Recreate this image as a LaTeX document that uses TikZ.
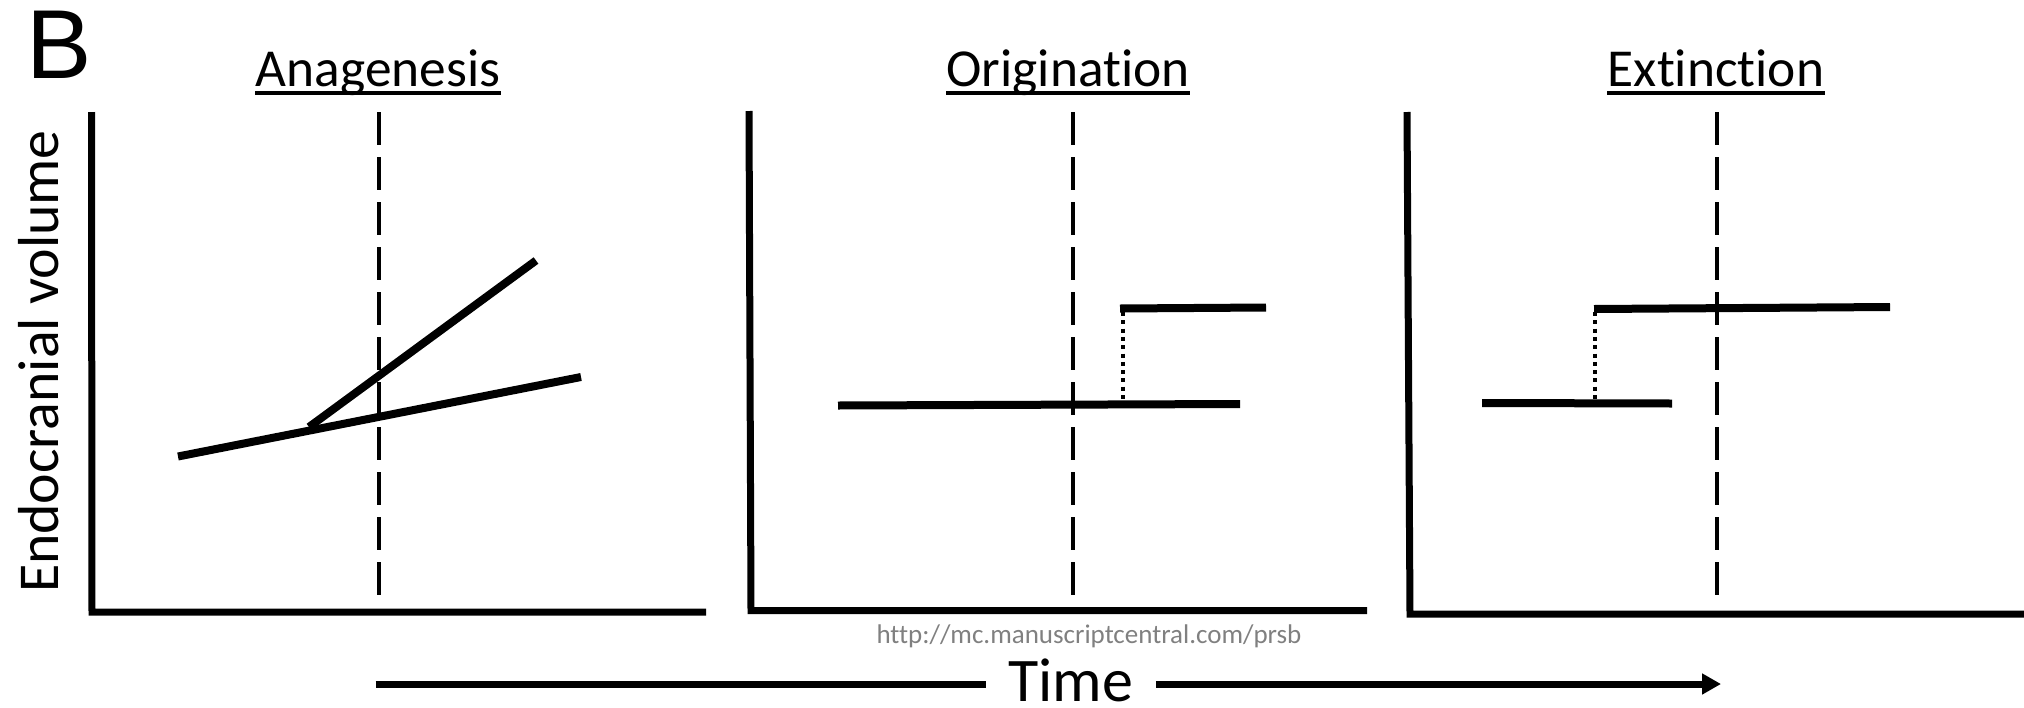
\documentclass[tikz,border=0pt]{standalone}
\usepackage{fontspec}
\setmainfont{Carlito}[Ligatures=NoCommon]
\newfontfamily\bfont{Liberation Sans}
\usetikzlibrary{calc,arrows.meta}
\definecolor{urlgray}{RGB}{128,128,128}
\begin{document}
\begin{tikzpicture}[x=0.5pt,y=-0.5pt, line join=miter,
  axisline/.style={line width=3.5pt},
  trend/.style={line width=4pt},
  divider/.style={line width=2pt, dash pattern=on 16.5pt off 6pt},
  jump/.style={line width=2pt, dash pattern=on 2pt off 2.15pt},
  ttl/.style={font=\fontsize{26.7}{30}\selectfont, inner sep=0pt, anchor=base},
  uline/.style={line width=1.75pt},
  timearrow/.style={line width=3.5pt}]
\useasboundingbox (0,0) rectangle (2024,707);

% panel letter and y label
\node[anchor=base west, inner sep=0pt, font=\bfont\fontsize{49}{52}\selectfont] (letter) at (26,78) {B};
\node[rotate=90, anchor=base, inner sep=0pt, font=\fontsize{28.9}{32}\selectfont] (ylab) at (58,361.5) {Endocranial volume};

% ---------- Panel 1: Anagenesis ----------
\node[ttl] (t1) at (378,86) {Anagenesis};
\draw[uline] ($(t1.base west)+(0,7)$) -- ($(t1.base east)+(0,7)$);
\draw[axisline] (91.5,112) -- (92,612) -- (706,612);
\draw[divider] (378.5,112) -- (378.5,602);
\coordinate (a1) at (178,456.5);
\coordinate (a2) at (581,377);
\coordinate (b1) at (309,427);
\coordinate (b2) at (536,260.5);
\draw[trend] (a1) -- (a2);
\draw[trend] (b1) -- (b2);

% ---------- Panel 2: Origination ----------
\node[ttl] (t2) at (1068,86) {Origination};
\draw[uline] ($(t2.base west)+(0,7)$) -- ($(t2.base east)+(0,7)$);
\draw[axisline] (749,111) -- (751,610.5) -- (1367,610.5);
\draw[divider] (1073,112) -- (1073,602);
\coordinate (o1) at (838,405.5);
\coordinate (o2) at (1240,404);
\coordinate (o3) at (1120,308.5);
\coordinate (o4) at (1266,307.5);
\draw[trend] (o1) -- (o2);
\draw[trend] (o3) -- (o4);
\draw[jump] (1122.7,312) -- (1122.7,402);

% ---------- Panel 3: Extinction ----------
\node[ttl] (t3) at (1716,86) {Extinction};
\draw[uline] ($(t3.base west)+(0,7)$) -- ($(t3.base east)+(0,7)$);
\draw[axisline] (1407,112) -- (1410,614) -- (2024,614);
\draw[divider] (1717,112) -- (1717,602);
\coordinate (e1) at (1482,403);
\coordinate (e2) at (1672,403.5);
\coordinate (e3) at (1594,309);
\coordinate (e4) at (1890,307);
\draw[trend] (e1) -- (e2);
\draw[trend] (e3) -- (e4);
\draw[jump] (1595,312) -- (1595,401);

% ---------- watermark and time axis ----------
\node[font=\fontsize{13.5}{15}\selectfont, text=urlgray, inner sep=0pt] (url) at (1089,636) {http://mc.manuscriptcentral.com/prsb};
\node[anchor=base, inner ysep=0pt, inner xsep=11pt, font=\fontsize{31}{34}\selectfont] (time) at (1071,701) {Time};
\coordinate (ts) at (375.6,684);
\coordinate (te) at (1721,684);
\draw[timearrow] (ts) -- (ts -| time.west);
\draw[timearrow, -{Triangle[length=9.5pt,width=10pt]}] (ts -| time.east) -- (te);
\end{tikzpicture}
\end{document}
